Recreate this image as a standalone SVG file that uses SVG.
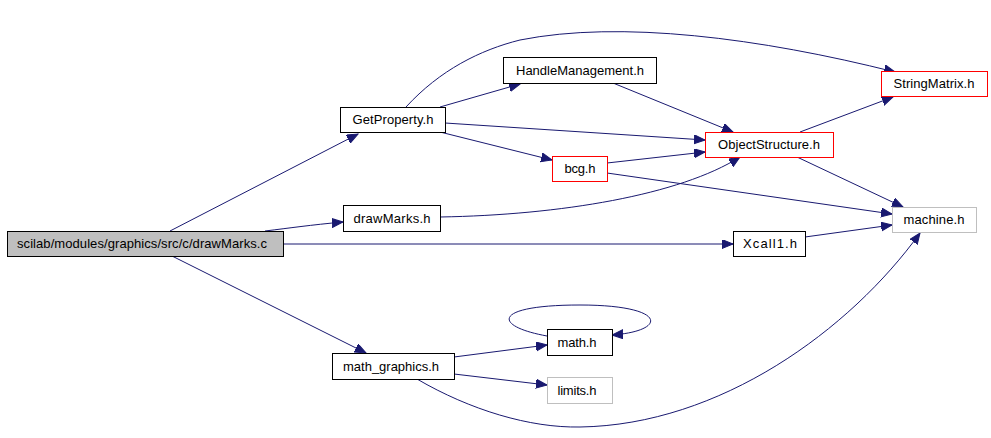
<svg xmlns="http://www.w3.org/2000/svg" width="991" height="438" viewBox="0 0 991 438">
<defs>
<marker id="ah" markerUnits="userSpaceOnUse" markerWidth="12" markerHeight="10" refX="11" refY="4.5" orient="auto">
<path d="M0,0 L11,4.5 L0,9 z" fill="#191970" stroke="#191970" stroke-width="1"/>
</marker>
<style>
.e{fill:none;stroke:#191970;stroke-width:1;marker-end:url(#ah)}
.n rect{fill:#fff;stroke:#000;stroke-width:1}
.n.r rect{stroke:#ff0000}
.n.g rect{stroke:#bfbfbf}
.n.m rect{fill:#bfbfbf}
text{font-family:"Liberation Sans",Arial,sans-serif;font-size:13px;fill:#000;text-anchor:middle}
</style>
</defs>
<rect width="991" height="438" fill="#fff"/>
<g id="edges">
<path class="e" d="M170,231 L358,134"/>
<path class="e" d="M265,231 C290,228 310,225 343,222"/>
<path class="e" d="M283,244 L733,244"/>
<path class="e" d="M172,256 L366,353"/>
<path class="e" d="M440,107 L520,84"/>
<path class="e" d="M445,123 L705,140"/>
<path class="e" d="M440,132 L552,160"/>
<path class="e" d="M406,107 C440,70 480,50 520,40 C620,20 760,38 895,72"/>
<path class="e" d="M613,83 L733,132"/>
<path class="e" d="M607,163 L705,152"/>
<path class="e" d="M607,173 L892,214"/>
<path class="e" d="M800,132 L893,97"/>
<path class="e" d="M797,157 L903,207"/>
<path class="e" d="M440,217 C560,215 680,195 740,157"/>
<path class="e" d="M805,237 L892,225"/>
<path class="e" d="M454,357 L547,345"/>
<path class="e" d="M454,374 L547,385"/>
<path class="e" d="M417,379 C470,410 530,428 580,427 C720,425 850,330 920,233"/>
<path class="e" d="M547,336 C492,326 492,305 580,305 C668,305 668,331 612,335"/>
</g>
<g id="n_main" class="n m"><rect x="7.5" y="231.5" width="276" height="25"/><text x="142" y="248" textLength="250">scilab/modules/graphics/src/c/drawMarks.c</text></g>
<g id="n_getproperty" class="n"><rect x="340.5" y="107.5" width="105" height="25"/><text x="393" y="124" textLength="81">GetProperty.h</text></g>
<g id="n_handlemanagement" class="n"><rect x="503.5" y="57.5" width="153" height="26"/><text x="580" y="75" textLength="128">HandleManagement.h</text></g>
<g id="n_bcg" class="n r"><rect x="552.5" y="156.5" width="55" height="25"/><text x="580" y="173" textLength="31">bcg.h</text></g>
<g id="n_objectstructure" class="n r"><rect x="705.5" y="132.5" width="128" height="25"/><text x="769" y="149" textLength="102">ObjectStructure.h</text></g>
<g id="n_stringmatrix" class="n r"><rect x="881.5" y="71.5" width="106" height="25"/><text x="934" y="88" textLength="81">StringMatrix.h</text></g>
<g id="n_machine" class="n g"><rect x="892.5" y="207.5" width="84" height="25"/><text x="934" y="224" textLength="61">machine.h</text></g>
<g id="n_drawmarks" class="n"><rect x="343.5" y="205.5" width="97" height="26"/><text x="392" y="223" textLength="77">drawMarks.h</text></g>
<g id="n_xcall1" class="n"><rect x="733.5" y="231.5" width="72" height="25"/><text x="770" y="248" textLength="54">Xcall1.h</text></g>
<g id="n_mathgraphics" class="n"><rect x="332.5" y="353.5" width="122" height="26"/><text x="391" y="371" textLength="96">math_graphics.h</text></g>
<g id="n_math" class="n"><rect x="547.5" y="329.5" width="65" height="26"/><text x="577" y="347" textLength="39">math.h</text></g>
<g id="n_limits" class="n g"><rect x="547.5" y="377.5" width="65" height="26"/><text x="577" y="395" textLength="39">limits.h</text></g>
</svg>
